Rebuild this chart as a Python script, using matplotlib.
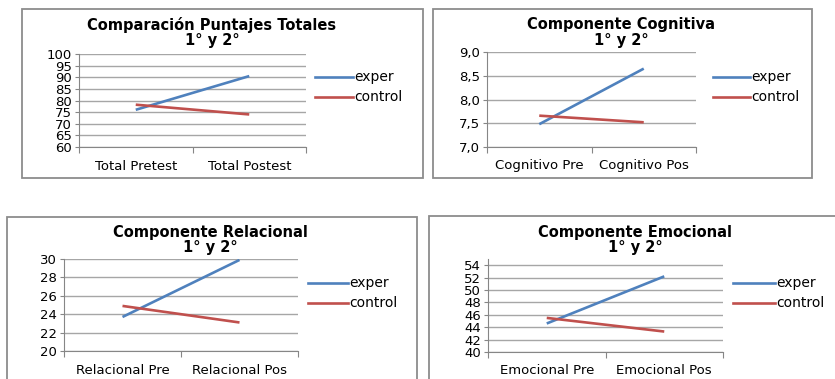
import matplotlib.pyplot as plt
from matplotlib.patches import Rectangle
from matplotlib.ticker import FuncFormatter

W, H = 835, 379

series_names = ["exper", "control"]
series_colors = ["#4F81BD", "#C0504D"]
subtitle = "1° y 2°"

total_titles = "Comparación Puntajes Totales"
total_cats = ["Total Pretest", "Total Postest"]
total_exper = [76.0, 90.5]
total_control = [78.2, 74.0]

cog_title = "Componente Cognitiva"
cog_cats = ["Cognitivo Pre", "Cognitivo Pos"]
cog_exper = [7.48, 8.65]
cog_control = [7.66, 7.52]

rel_title = "Componente Relacional"
rel_cats = ["Relacional Pre", "Relacional Pos"]
rel_exper = [23.7, 29.9]
rel_control = [24.9, 23.1]

emo_title = "Componente Emocional"
emo_cats = ["Emocional Pre", "Emocional Pos"]
emo_exper = [44.6, 52.2]
emo_control = [45.5, 43.3]

GRID = "#a6a6a6"
AXIS = "#868686"
BORDER = "#8c8c8c"


def fig_rect(left, top, right, bottom):
    return [left / W, 1 - bottom / H, (right - left) / W, (bottom - top) / H]


def add_box(fig, left, top, right, bottom):
    x, y, w, h = fig_rect(left, top, right, bottom)
    fig.patches.append(Rectangle((x, y), w, h, transform=fig.transFigure,
                                 fill=False, edgecolor=BORDER, linewidth=1.3))


def draw_panel(fig, plot_px, title, title_xy, cats, exper, control,
               ylim, yticks, legend_px, fmt=None):
    ax = fig.add_axes(fig_rect(*plot_px))
    xs = [0.5, 1.5]
    ax.plot(xs, exper, color=series_colors[0], lw=1.9, solid_capstyle="butt")
    ax.plot(xs, control, color=series_colors[1], lw=1.9, solid_capstyle="butt")
    ax.set_xlim(0, 2)
    ax.set_ylim(*ylim)
    ax.set_yticks(yticks)
    if fmt:
        ax.yaxis.set_major_formatter(FuncFormatter(fmt))
    ax.set_xticks([0, 1, 2])
    ax.set_xticklabels([])
    ax.set_xticks(xs, minor=True)
    ax.set_xticklabels(cats, minor=True, fontsize=9.5)
    ax.tick_params(axis="x", which="major", length=4, color=AXIS, width=0.8)
    ax.tick_params(axis="x", which="minor", length=0, pad=9)
    ax.tick_params(axis="y", length=3, color=AXIS, width=0.8, labelsize=9.5, pad=2)
    ax.grid(axis="y", color=GRID, lw=1.0)
    ax.set_axisbelow(True)
    for s in ["top", "right"]:
        ax.spines[s].set_visible(False)
    for s in ["left", "bottom"]:
        ax.spines[s].set_color(AXIS)
        ax.spines[s].set_linewidth(0.8)

    tx, ty = title_xy
    fig.text(tx / W, 1 - ty / H, title, ha="center", va="center",
             fontsize=10.5, fontweight="bold")
    fig.text(tx / W, 1 - (ty + 15.5) / H, subtitle, ha="center", va="center",
             fontsize=10.5, fontweight="bold")

    lx0, lx1, ly = legend_px
    for i, name in enumerate(series_names):
        yy = 1 - (ly + 20 * i) / H
        fig.add_artist(plt.Line2D([lx0 / W, lx1 / W], [yy, yy],
                                  transform=fig.transFigure,
                                  color=series_colors[i], lw=1.9))
        fig.text((lx1 + 1) / W, yy, name, ha="left", va="center", fontsize=10)


fig = plt.figure(figsize=(W / 100, H / 100), dpi=100)
fig.patch.set_facecolor("white")

add_box(fig, 22, 9, 423, 178)
add_box(fig, 433, 9, 812, 178)
add_box(fig, 7, 217, 417, 395)
add_box(fig, 429, 216, 850, 395)

draw_panel(fig, (79, 54, 306, 147), total_titles, (212, 25), total_cats,
           total_exper, total_control, (60, 100), range(60, 101, 5),
           (315, 353, 77))

draw_panel(fig, (487, 52, 696, 147), cog_title, (621, 25), cog_cats,
           cog_exper, cog_control, (7.0, 9.0), [7.0, 7.5, 8.0, 8.5, 9.0],
           (713, 750, 77), fmt=lambda v, p: f"{v:.1f}".replace(".", ","))

draw_panel(fig, (64, 259, 298, 351), rel_title, (210, 232), rel_cats,
           rel_exper, rel_control, (20, 30), range(20, 31, 2),
           (308, 348, 283))

draw_panel(fig, (488, 259, 723, 352), emo_title, (635, 232), emo_cats,
           emo_exper, emo_control, (40, 55), range(40, 55, 2),
           (733, 775, 283))

fig.savefig("out.png", dpi=100)
